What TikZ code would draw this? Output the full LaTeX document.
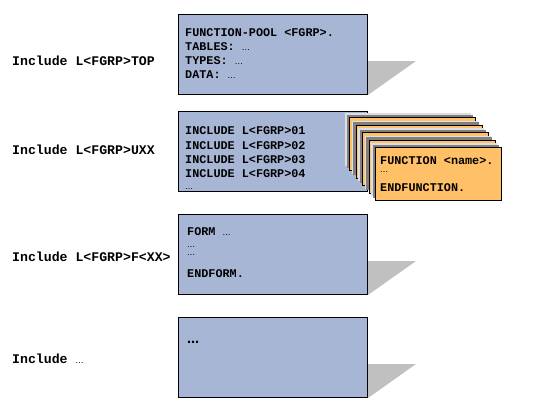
\documentclass[tikz,border=0pt]{standalone}
\usepackage{fontspec}
\newfontfamily\fgmono{Liberation Mono}
\newfontfamily\fgsans{DejaVu Sans}
\definecolor{fgblue}  {RGB}{168,182,214}
\definecolor{fgorange}{RGB}{255,192,104}
\definecolor{fgshade} {RGB}{192,192,192}
\definecolor{fgdark}  {RGB}{128,128,128}
\definecolor{fglight} {RGB}{222,222,222}
\usepackage{tikz}
\usetikzlibrary{positioning,calc}
\tikzset{
  fgbox/.style={rectangle,draw=black,fill=fgblue,line width=1pt,
                minimum width=189pt,minimum height=80pt,
                anchor=north west,inner sep=0pt},
  fgcard/.style={rectangle,draw=black,fill=fgorange,line width=1pt,
                 minimum width=126pt,minimum height=53pt,
                 anchor=north west,inner sep=0pt},
  inc/.style={font=\fgmono\bfseries\fontsize{13.2}{15}\selectfont,
              anchor=base west,inner sep=0pt},
  code/.style={font=\fgmono\bfseries\fontsize{11.8}{14}\selectfont,
               anchor=base west,inner sep=0pt},
  dotline/.style={font=\fgsans\fontsize{8}{10}\selectfont,
                  anchor=base west,inner sep=0pt},
}
\newcommand{\fgdots}{{\fgsans\mdseries\fontsize{8}{10}\selectfont …}}

\begin{document}
\begin{tikzpicture}[x=1pt,y=-1pt]
  \useasboundingbox (0,0) rectangle (537,402);
  % include boxes
  \node[fgbox] (top)  at (178,14)  {};
  \node[fgbox] (uxx)  at (178,111) {};
  \node[fgbox] (form) at (178,214) {};
  \node[fgbox] (more) at (178,317) {};
  \foreach \b in {top,form,more}
    \fill[fgshade] ($(\b.south east)+(0,-34)$) -- ++(48,0)
          -- (\b.south east) -- cycle;
  % include names
  \node[inc] (ltop)  at (12,65)  {Include L<FGRP>TOP};
  \node[inc] (luxx)  at (12,154) {Include L<FGRP>UXX};
  \node[inc] (lform) at (12,261) {Include L<FGRP>F<XX>};
  \node[inc] (lmore) at (12,363) {Include \fgdots};
  % TOP include
  \foreach \t/\y [count=\i] in {{FUNCTION-POOL <FGRP>.}/36,
      {TABLES: \fgdots}/50, {TYPES: \fgdots}/64, {DATA: \fgdots}/78}
    \node[code] (top\i) at (185,\y) {\t};
  % UXX include
  \foreach \n/\y in {1/134,2/149,3/163,4/177}
    \node[code] (uxx\n) at (185,\y) {INCLUDE L<FGRP>0\n};
  \node[dotline] (uxx5) at (185,189) {…};
  % stacked function modules
  \foreach \k in {4,3,2,1,0}{
    \fill[fglight] (375-6.5*\k-4,147-7.5*\k-4) rectangle ++(126,53);
    \fill[fgdark] (375-6.5*\k-2.5,147-7.5*\k-2.5) rectangle ++(126,53);
    \node[fgcard] (card\k) at (375-6.5*\k,147-7.5*\k) {};
  }
  \node[code] (fn1) at (380,164) {FUNCTION <name>.};
  \node[dotline] (fn2) at (380,172) {…};
  \node[code] (fn3) at (380,191) {ENDFUNCTION.};
  % form include
  \node[code] (form1) at (187,235.5) {FORM \fgdots};
  \node[dotline] (form2) at (187,247) {…};
  \node[dotline] (form3) at (187,255) {…};
  \node[code] (form4) at (187,277.5) {ENDFORM.};
  % further includes
  \node[code] (more1) at (187,343) {\fgsans\fontsize{12}{14}\selectfont …};
\end{tikzpicture}
\end{document}
